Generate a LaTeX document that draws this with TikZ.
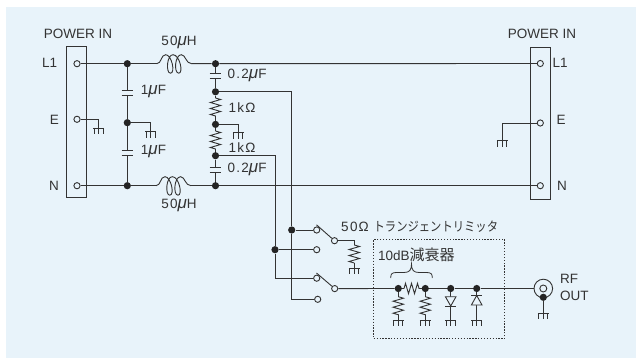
\documentclass[tikz,border=0pt]{standalone}
\usepackage{fontspec}
\setmainfont{Liberation Sans}
\newfontfamily\jpfont{Noto Sans CJK JP}
\newfontfamily\valfont[LetterSpace=10]{Liberation Sans}
\usetikzlibrary{decorations.pathmorphing,calc}
\definecolor{bgblue}{HTML}{E8F3FA}
\definecolor{ink}{HTML}{333333}
\newcommand{\mufar}{{\fontsize{17}{14}\selectfont\itshape μ}}
\tikzset{
  x=1pt,y=-1pt,
  wire/.style={draw=ink,line width=0.9pt},
  jun/.style={circle,fill=ink!70!black,inner sep=0pt,minimum size=7.2pt},
  term/.style={circle,draw=ink,line width=0.9pt,fill=bgblue,inner sep=0pt,minimum size=6.2pt},
  lbl/.style={text=ink,font=\fontsize{13.5}{14}\selectfont,inner sep=0pt},
  val/.style={lbl,font=\fontsize{13.5}{14}\selectfont\valfont},
  res/.style={wire,decorate,decoration={zigzag,segment length=6pt,amplitude=5.2pt,pre length=0pt,post length=0pt}},
  gndmark/.pic={
    \draw[ink,line width=0.9pt] (-5.5,0) -- (5.5,0) (-4.5,0) -- (-4.5,6) (0,0) -- (0,6) (4.5,0) -- (4.5,6);
  },
  coilsym/.pic={
    \coordinate (-l) at (-18,0);
    \coordinate (-r) at (17,0);
    \draw[wire] (-18,0) .. controls (-13,0) and (-14,-9) .. (-9,-9)
      .. controls (-3,-9) and (1,9.5) .. (-4.3,9.5)
      .. controls (-9,9.5) and (-8,-9) .. (-1.7,-9)
      .. controls (5,-9) and (9,9.5) .. (4,9.5)
      .. controls (-1,9.5) and (0,-9) .. (6.7,-9)
      .. controls (11,-9) and (11,0) .. (17,0);
  },
}
\begin{document}
\begin{tikzpicture}
\useasboundingbox (0,0) rectangle (636,358);
\fill[white] (0,0) rectangle (636,358);
\fill[bgblue] (6,7) rectangle (636,358);

% terminal boxes
\node[wire,minimum width=19.6pt,minimum height=151pt,inner sep=0pt,anchor=center] (boxL) at (76.5,122.2) {};
\node[wire,minimum width=20pt,minimum height=151.6pt,inner sep=0pt,anchor=center] (boxR) at (540.7,123.5) {};

% left terminals
\node[term] (tL) at (77,63.7) {};
\node[term] (tE) at (77,119.3) {};
\node[term] (tN) at (77,185.7) {};
% right terminals
\node[term] (rL) at (540.3,63.5) {};
\node[term] (rE) at (540.3,123) {};
\node[term] (rN) at (540.3,185.7) {};

% junctions
\node[jun] (a1) at (127.3,63.7) {};
\node[jun] (a2) at (127.3,122.7) {};
\node[jun] (a3) at (127.3,185.7) {};
\node[jun] (b1) at (215.5,63.7) {};
\node[jun] (b2) at (215.5,91.8) {};
\node[jun] (b3) at (215.5,124.4) {};
\node[jun] (b4) at (215.5,155.7) {};
\node[jun] (b5) at (215.5,185.7) {};

% L1 and N lines
\pic (ind1) at (174.7,63.7) {coilsym};
\pic (ind2) at (174,185.7) {coilsym};
\draw[wire] (tL) -- (a1) -- (ind1-l);
\draw[wire] (ind1-r) -- (b1) -- (rL);
\draw[wire] (tN) -- (a3) -- (ind2-l);
\draw[wire] (ind2-r) -- (b5) -- (rN);

% 1 uF capacitors
\coordinate (c1t) at (127.3,90.2);
\coordinate (c1b) at (127.3,95);
\coordinate (c2t) at (127.3,150.7);
\coordinate (c2b) at (127.3,155.3);
\draw[wire] (a1) -- (c1t) (c1b) -- (a2) -- (c2t) (c2b) -- (a3);
\draw[wire] ($(c1t)+(-5.8,0)$) -- ($(c1t)+(5.8,0)$) ($(c1b)+(-5.8,0)$) -- ($(c1b)+(5.8,0)$);
\draw[wire] ($(c2t)+(-5.8,0)$) -- ($(c2t)+(5.8,0)$) ($(c2b)+(-5.8,0)$) -- ($(c2b)+(5.8,0)$);

% 0.2 uF capacitors and 1 kOhm resistors
\coordinate (c3t) at (215.5,73.3);
\coordinate (c3b) at (215.5,78.3);
\coordinate (c4t) at (215.5,167.3);
\coordinate (c4b) at (215.5,172.7);
\coordinate (r1t) at (215.5,98);
\coordinate (r1b) at (215.5,117);
\coordinate (r2t) at (215.5,131);
\coordinate (r2b) at (215.5,150);
\draw[wire] (b1) -- (c3t) (c3b) -- (b2) -- (r1t) (r1b) -- (b3) -- (r2t) (r2b) -- (b4) -- (c4t) (c4b) -- (b5);
\draw[wire] ($(c3t)+(-5.8,0)$) -- ($(c3t)+(5.8,0)$) ($(c3b)+(-5.8,0)$) -- ($(c3b)+(5.8,0)$);
\draw[wire] ($(c4t)+(-5.8,0)$) -- ($(c4t)+(5.8,0)$) ($(c4b)+(-5.8,0)$) -- ($(c4b)+(5.8,0)$);
\draw[res] (r1t) -- (r1b);
\draw[res] (r2t) -- (r2b);

% grounds of the filter
\coordinate (g1) at (98.7,128);
\coordinate (g2) at (150.7,131.7);
\coordinate (g3) at (238.3,132.7);
\coordinate (g4) at (502.3,140.7);
\draw[wire] (tE) -| (g1);
\draw[wire] (a2) -| (g2);
\draw[wire] (b3) -| (g3);
\draw[wire] (rE) -| (g4);
\pic at (g1) {gndmark};
\pic at (g2) {gndmark};
\pic at (g3) {gndmark};
\pic at (g4) {gndmark};

% switches
\node[term] (s1a) at (316.7,230) {};
\node[term] (s1b) at (316.7,249.7) {};
\node[term] (s1c) at (334.5,240.7) {};
\node[term] (s2a) at (316.7,278.2) {};
\node[term] (s2b) at (317.7,299.3) {};
\node[term] (s2c) at (334.7,288.6) {};
\coordinate (s1tip) at (316.5,224.8);
\coordinate (s2tip) at (316.5,273);
\draw[wire] (s1c) -- (s1tip);
\draw[wire] (s2c) -- (s2tip);

\node[jun] (j1) at (291.7,230) {};
\node[jun] (j2) at (275,249.7) {};
\draw[wire] (b2) -| (j1);
\draw[wire] (j1) |- (s2b);
\draw[wire] (j1) -- (s1a);
\draw[wire] (b4) -| (j2);
\draw[wire] (j2) |- (s2a);
\draw[wire] (j2) -- (s1b);

% limiter load
\coordinate (lt) at (354.3,245);
\coordinate (lb) at (354.3,263);
\coordinate (lg) at (354.3,268);
\draw[wire] (s1c) -| (lt);
\draw[res] (lt) -- (lb);
\draw[wire] (lb) -- (lg);
\pic at (lg) {gndmark};

% attenuator and limiter row
\node[jun] (d1) at (398.3,288.5) {};
\node[jun] (d2) at (425.3,288.5) {};
\node[jun] (d3) at (450.7,288.5) {};
\node[jun] (d4) at (476.7,288.5) {};
\node[term,minimum size=18.6pt] (rfo) at (543.3,288.5) {};
\node[term,minimum size=7pt] (rfi) at (543.3,288.5) {};
\node[jun] (rfd) at (543.3,297.3) {};
\coordinate (ra) at (404,288.5);
\coordinate (rb) at (420,288.5);
\draw[wire] (s2c) -- (d1) -- (ra);
\draw[res] (ra) -- (rb);
\draw[wire] (rb) -- (d2) -- (d3) -- (d4) -- (rfo);
\coordinate (rs1) at (398.3,296.7);
\coordinate (re1) at (398.3,315);
\coordinate (gs1) at (398.3,320);
\coordinate (rs2) at (425.3,296.7);
\coordinate (re2) at (425.3,315);
\coordinate (gs2) at (425.3,320);
\draw[wire] (d1) -- (rs1) (re1) -- (gs1);
\draw[wire] (d2) -- (rs2) (re2) -- (gs2);
\draw[res] (rs1) -- (re1);
\draw[res] (rs2) -- (re2);
\pic at (gs1) {gndmark};
\pic at (gs2) {gndmark};

% diodes
\coordinate (gs3) at (450.7,320);
\coordinate (gs4) at (476.7,320);
\draw[wire] (d3) -- (gs3);
\draw[wire] (d4) -- (gs4);
\draw[wire,fill=bgblue] (445.4,296.7) -- (456,296.7) -- (450.7,306) -- cycle;
\draw[wire] (445.4,306) -- (456,306);
\draw[wire,fill=bgblue] (471.4,305) -- (482,305) -- (476.7,295.5) -- cycle;
\draw[wire] (471.4,295.5) -- (482,295.5);
\pic at (gs3) {gndmark};
\pic at (gs4) {gndmark};

% RF ground
\coordinate (gr) at (543.3,313);
\draw[wire] (rfd) -- (gr);
\pic at (gr) {gndmark};

% dotted enclosure and brace
\node[draw=ink,line width=0.8pt,dash pattern=on 1.3pt off 1.6pt,inner sep=0pt,minimum width=131pt,minimum height=99.4pt] (atbox) at (439.2,289) {};
\coordinate (bl) at (390.7,278);
\coordinate (bp) at (411.5,264);
\coordinate (br) at (432.3,278);
\draw[ink,line width=0.8pt] (bl) .. controls (390.7,273.5) and (392,272.5) .. (397,272.5) -- (404,272.5)
  .. controls (409.5,272.5) and (411.5,270) .. (bp)
  .. controls (411.5,270) and (413.5,272.5) .. (419,272.5) -- (426,272.5)
  .. controls (431,272.5) and (432.3,273.5) .. (br);

% labels
\node[lbl] (p1) at (78,34) {POWER IN};
\node[lbl] (p2) at (542,34) {POWER IN};
\node[lbl] (lL) at (49.7,63) {L1};
\node[lbl] (lE) at (54.3,120) {E};
\node[lbl] (lN) at (54,186) {N};
\node[lbl] (rLl) at (560,63) {L1};
\node[lbl] (rEl) at (561,119.5) {E};
\node[lbl] (rNl) at (562,186) {N};
\node[val] (m1) at (179,42.7) {50\mufar H};
\node[val] (m2) at (179,205.7) {50\mufar H};
\node[val] (cf1) at (153.5,91) {1\mufar F};
\node[val] (cf2) at (153.5,151) {1\mufar F};
\node[val,anchor=west] (cf3) at (227.3,75) {0.2\mufar F};
\node[val,anchor=west] (cf4) at (227.3,169.3) {0.2\mufar F};
\node[val,anchor=west] (k1) at (228.3,107.7) {1kΩ};
\node[val,anchor=west] (k2) at (228.3,147.3) {1kΩ};
\node[val,anchor=west] (tl) at (341,226.7) {50\kern1pt Ω\kern5pt{\jpfont\scalebox{.87}[1]{\fontsize{13}{14}\selectfont トランジェントリミッタ}}};
\node[lbl,anchor=west] (db) at (378,255) {10dB{\jpfont\fontsize{15}{15}\selectfont 減衰器}};
\node[lbl,anchor=west] (rf1) at (560,279) {RF};
\node[lbl,anchor=west] (rf2) at (560,296) {OUT};
\end{tikzpicture}
\end{document}
